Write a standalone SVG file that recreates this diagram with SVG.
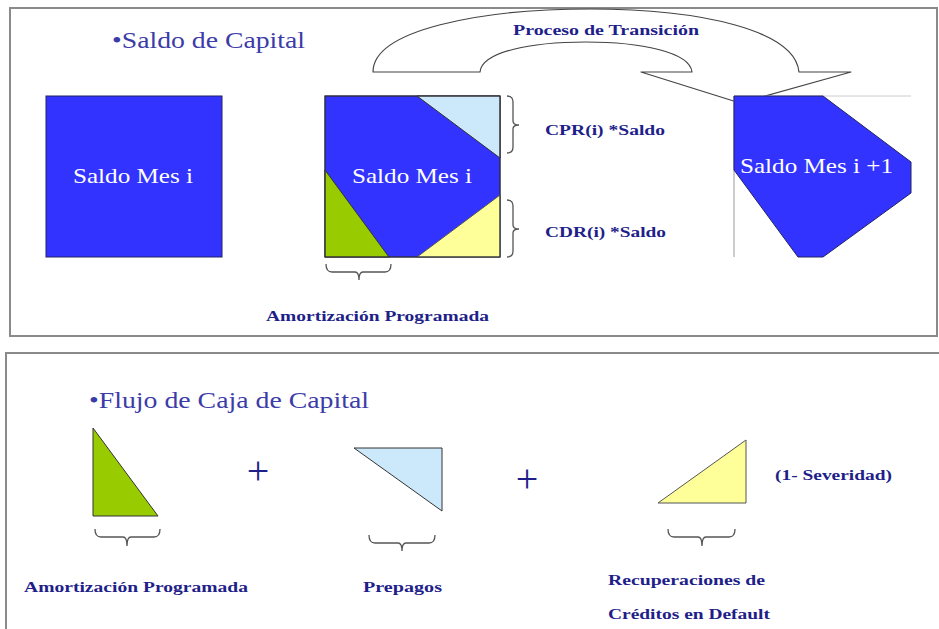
<svg xmlns="http://www.w3.org/2000/svg" width="939" height="629" viewBox="0 0 939 629">
<style>
.frame{fill:none;stroke:#8a8a8a;stroke-width:2}
.blue{fill:#3333ff;stroke:#222266;stroke-width:1}
.green{fill:#99cc00;stroke:#333;stroke-width:1}
.lblue{fill:#cce9fb;stroke:#333;stroke-width:1}
.yellow{fill:#ffff99;stroke:#555;stroke-width:1}
.brace{fill:none;stroke:#555;stroke-width:1.3}
.title{font-size:24px;fill:#3c3ca8}
.inbox{font-size:22px;fill:#ffffff}
.lbl{font-size:14px;font-weight:bold;fill:#1f1f8a}
.plus{font-size:40px;fill:#1f1f8a;text-anchor:middle}
</style>
<rect width="939" height="629" fill="#ffffff"/>
<rect class="frame" x="10" y="8" width="927" height="328"/>
<rect class="frame" x="6" y="353" width="945" height="300"/>
<g font-family="'Liberation Serif', 'DejaVu Serif', serif">
<g id="title-saldo"><text class="title" x="112" y="48" textLength="193" lengthAdjust="spacingAndGlyphs">•Saldo de Capital</text></g>

<g id="saldo-mes-i">
<rect class="blue" x="46" y="96" width="176" height="161"/>
<text class="inbox" x="73" y="183" textLength="120" lengthAdjust="spacingAndGlyphs">Saldo Mes i</text>
</g>

<g id="saldo-mes-i-split">
<rect class="blue" x="325" y="96" width="175" height="161"/>
<polygon class="green" points="325,170 389,257 325,257"/>
<polygon class="lblue" points="417,96 500,96 500,158"/>
<polygon class="yellow" points="417,257 500,257 500,195"/>
<rect x="325" y="96" width="175" height="161" fill="none" stroke="#333" stroke-width="1"/>
<text class="inbox" x="352" y="183" textLength="120" lengthAdjust="spacingAndGlyphs">Saldo Mes i</text>
</g>

<g id="cpr-label">
<path class="brace" d="M507 96 Q513 96 513 102 L513 121 Q513 125 519 125 Q513 125 513 129 L513 147 Q513 153 507 153"/>
<text class="lbl" x="545" y="135" textLength="120" lengthAdjust="spacingAndGlyphs">CPR(i) *Saldo</text>
</g>
<g id="cdr-label">
<path class="brace" d="M507 200 Q513 200 513 206 L513 225 Q513 229 519 229 Q513 229 513 233 L513 251 Q513 257 507 257"/>
<text class="lbl" x="545" y="237" textLength="121" lengthAdjust="spacingAndGlyphs">CDR(i) *Saldo</text>
</g>
<g id="amort-top">
<path class="brace" d="M326 264 Q326 272 332 272 L355 272 Q359 272 359 280 Q359 272 363 272 L385 272 Q391 272 391 264"/>
<text class="lbl" x="266" y="321" textLength="223" lengthAdjust="spacingAndGlyphs">Amortización Programada</text>
</g>

<g id="transition-arrow">
<path d="M373 72 C 373 30, 480 9, 590 9 C 700 9, 795 30, 799 72 L851 72 L740 103 L641 72 L692 72 C 690 52, 640 42, 586 42 C 530 42, 482 52, 480 72 Z" fill="#ffffff" stroke="#444" stroke-width="1.2" stroke-linejoin="round"/>
<text class="lbl" x="513" y="35" textLength="186" lengthAdjust="spacingAndGlyphs">Proceso de Transición</text>
</g>

<g id="saldo-mes-i-1">
<line x1="734" y1="96" x2="911" y2="96" stroke="#cccccc" stroke-width="1"/>
<line x1="734" y1="96" x2="734" y2="257" stroke="#999999" stroke-width="1"/>
<polygon class="blue" points="734,96 823,96 911,162 911,193 823,257 798,257 734,170"/>
<text class="inbox" x="740" y="173" textLength="153" lengthAdjust="spacingAndGlyphs">Saldo Mes i +1</text>
</g>

<g id="title-flujo"><text class="title" x="89" y="408" textLength="280" lengthAdjust="spacingAndGlyphs">•Flujo de Caja de Capital</text></g>

<g id="amort-flow">
<polygon class="green" points="93,428 93,516 158,516"/>
<path class="brace" d="M95 529 Q95 537 101 537 L123 537 Q127 537 127 546 Q127 537 131 537 L154 537 Q160 537 160 529"/>
<text class="lbl" x="24" y="592" textLength="224" lengthAdjust="spacingAndGlyphs">Amortización Programada</text>
</g>

<text class="plus" x="258" y="484">+</text>

<g id="prepagos-flow">
<polygon class="lblue" points="354,448 442,448 442,511"/>
<path class="brace" d="M369 535 Q369 543 375 543 L398 543 Q402 543 402 551 Q402 543 406 543 L429 543 Q435 543 435 535"/>
<text class="lbl" x="363" y="592" textLength="79" lengthAdjust="spacingAndGlyphs">Prepagos</text>
</g>

<text class="plus" x="527" y="492">+</text>

<g id="recuperaciones-flow">
<polygon class="yellow" points="658,503 746,503 746,440"/>
<path class="brace" d="M668 529 Q668 537 674 537 L698 537 Q702 537 702 546 Q702 537 706 537 L729 537 Q735 537 735 529"/>
<text class="lbl" x="608" y="585" textLength="157" lengthAdjust="spacingAndGlyphs">Recuperaciones de</text>
<text class="lbl" x="608" y="619" textLength="162" lengthAdjust="spacingAndGlyphs">Créditos en Default</text>
<text class="lbl" x="775" y="480" textLength="117" lengthAdjust="spacingAndGlyphs">(1- Severidad)</text>
</g>
</g>
</svg>
